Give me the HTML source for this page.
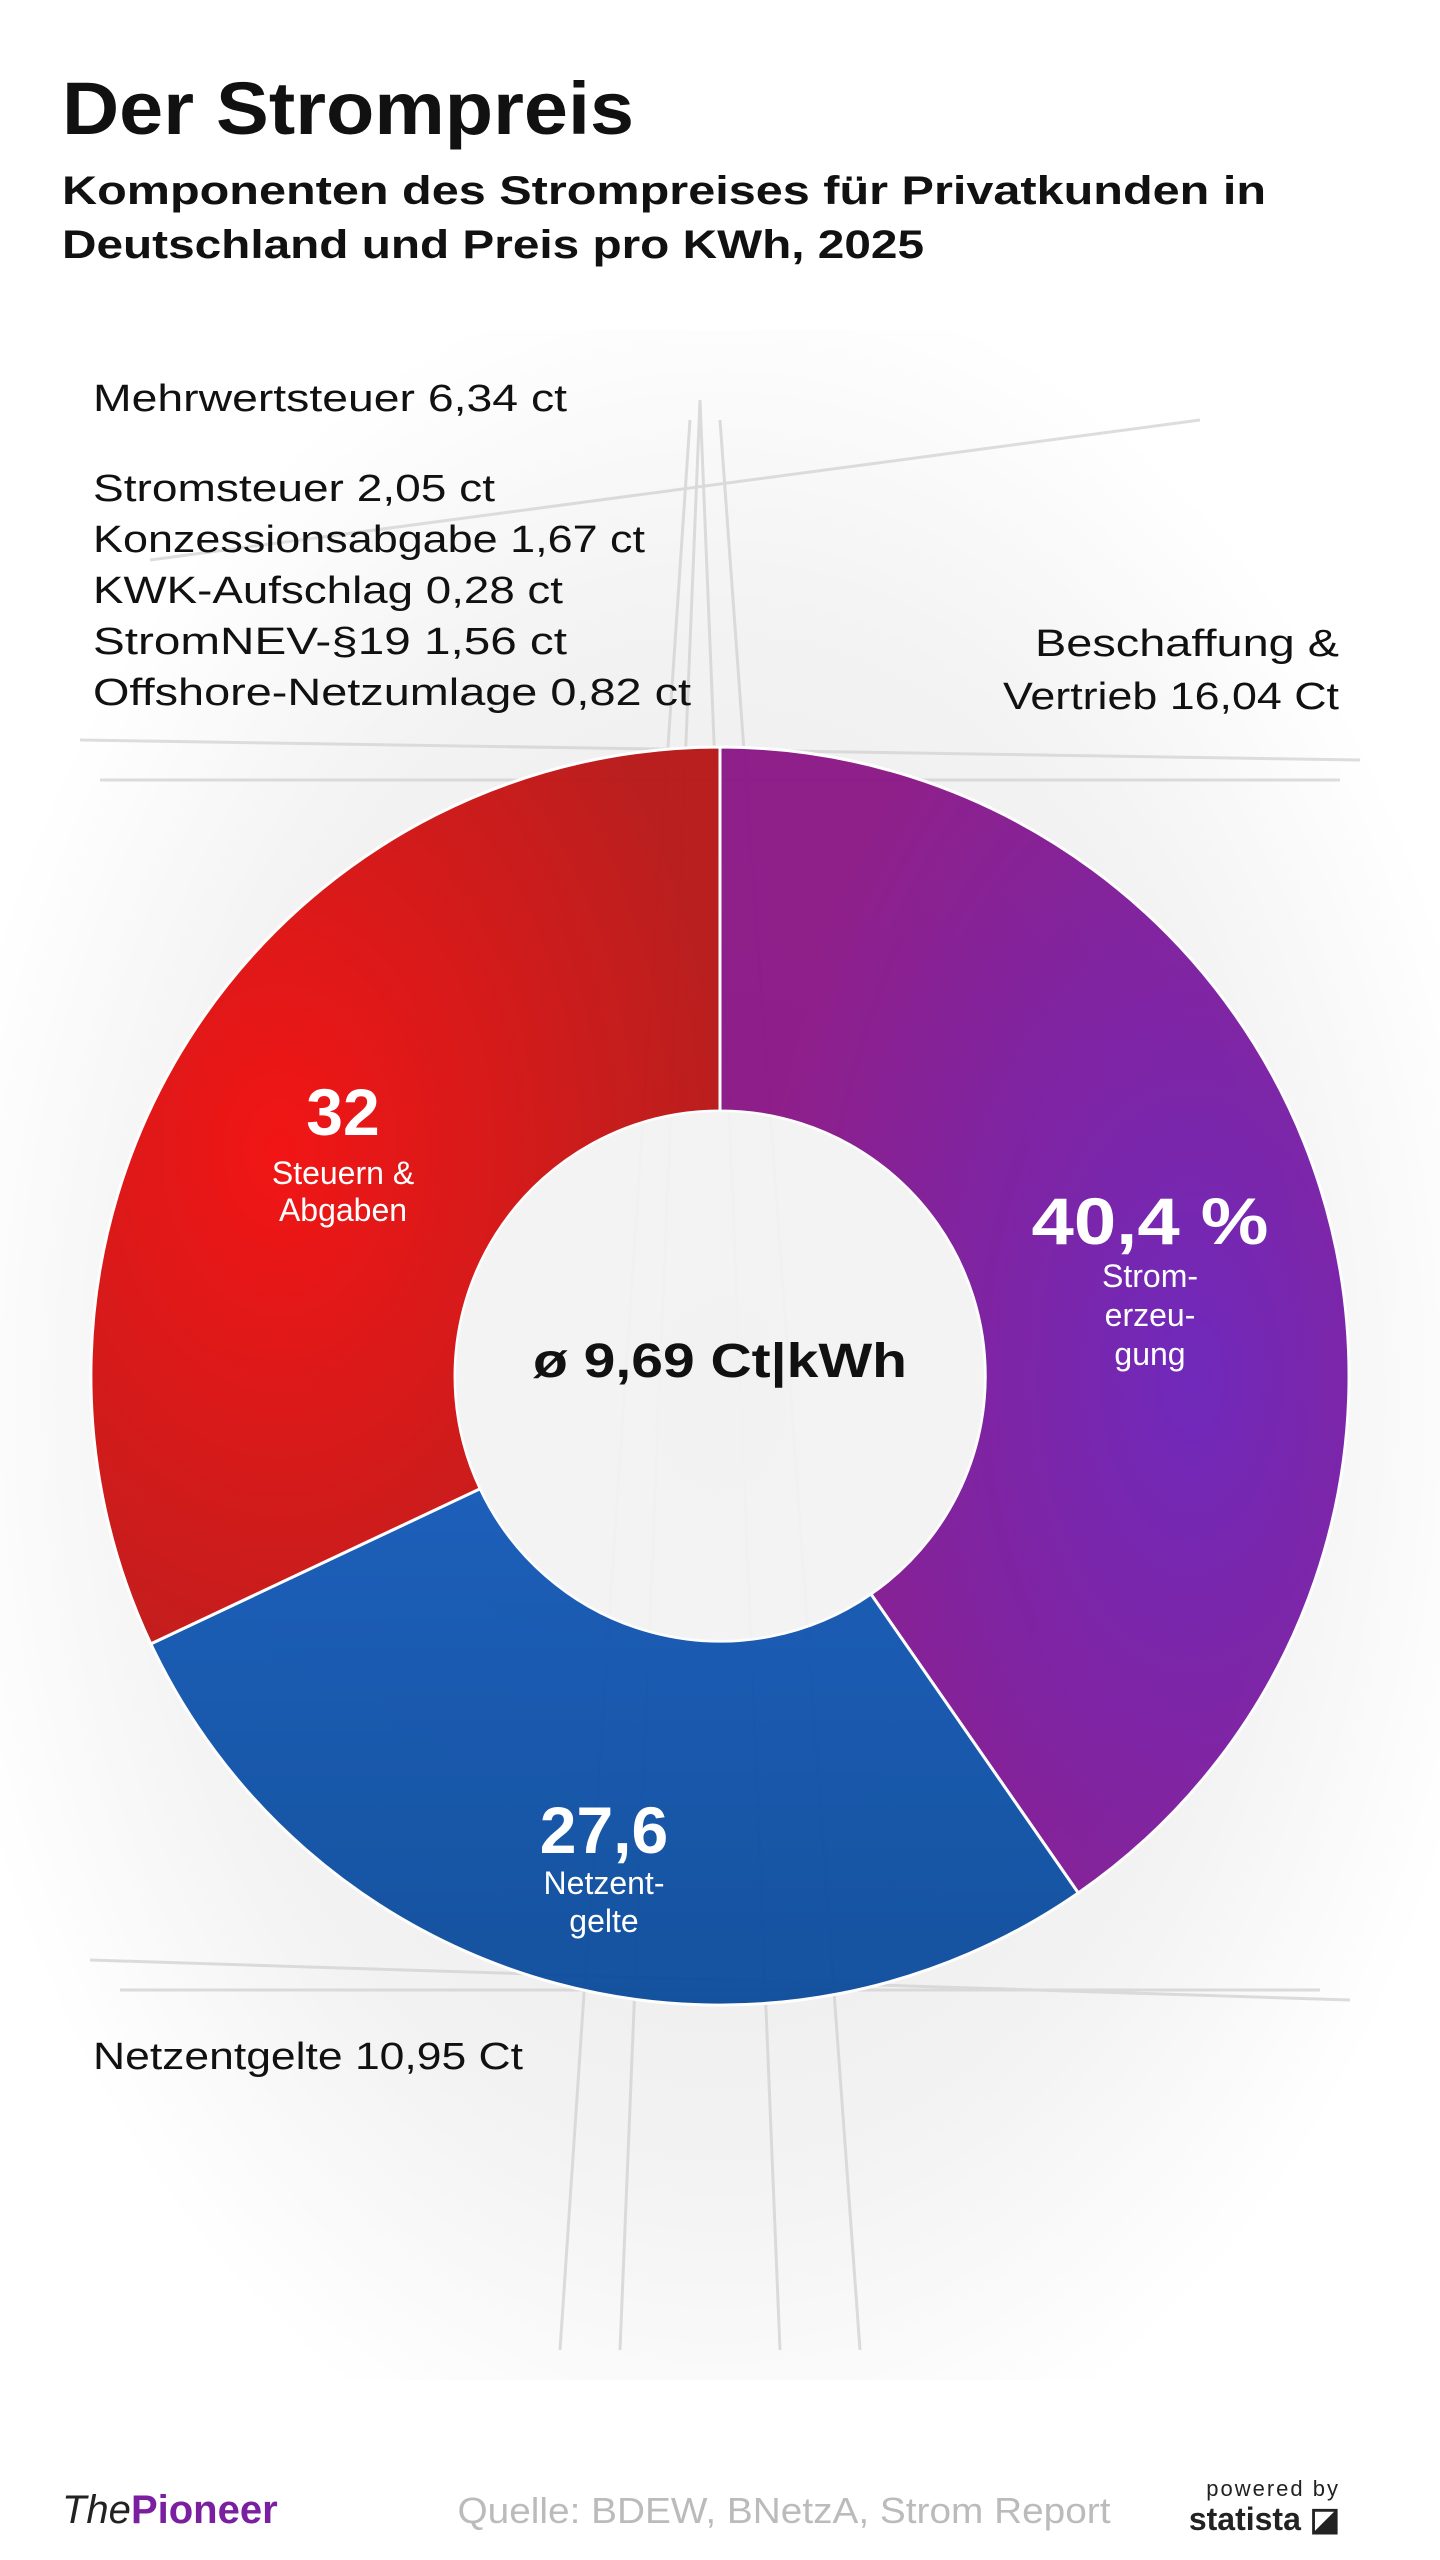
<!DOCTYPE html>
<html><head><meta charset="utf-8"><style>
html,body{margin:0;padding:0;background:#fff}
svg{display:block}
text{font-family:"Liberation Sans",sans-serif}
</style></head><body>
<svg width="1440" height="2560" viewBox="0 0 1440 2560" xmlns="http://www.w3.org/2000/svg">
<defs>
<radialGradient id="bg" cx="50%" cy="52%" r="55%">
<stop offset="0" stop-color="#e6e6e6"/><stop offset="0.7" stop-color="#f3f3f3"/><stop offset="1" stop-color="#fff"/>
</radialGradient>
<radialGradient id="red" cx="30%" cy="45%" r="70%">
<stop offset="0" stop-color="#f20a0a"/><stop offset="1" stop-color="#b81414"/>
</radialGradient>
<radialGradient id="pur" cx="75%" cy="55%" r="70%">
<stop offset="0" stop-color="#6a1fb8"/><stop offset="1" stop-color="#8a1585"/>
</radialGradient>
<linearGradient id="blu" x1="0" y1="0" x2="0" y2="1">
<stop offset="0" stop-color="#1258b8"/><stop offset="1" stop-color="#0a4a9a"/>
</linearGradient>
</defs>
<rect x="0" y="330" width="1440" height="2050" fill="url(#bg)"/>
<g stroke="#d4d4d4" stroke-width="3" fill="none" opacity="0.8">
<path d="M620 2350 L700 400 L780 2350"/><path d="M560 2350 L690 420"/><path d="M860 2350 L720 420"/>
<path d="M100 780 L1340 780"/><path d="M120 1990 L1320 1990"/><path d="M80 740 L1360 760"/>
<path d="M150 560 L1200 420"/><path d="M90 1960 L1350 2000"/>
</g>
<text x="62" y="134" font-size="74" font-weight="bold" fill="#111" textLength="572" lengthAdjust="spacingAndGlyphs">Der Strompreis</text>
<text x="62" y="204" font-size="40" font-weight="bold" fill="#111" textLength="1204" lengthAdjust="spacingAndGlyphs">Komponenten des Strompreises für Privatkunden in</text>
<text x="62" y="258" font-size="40" font-weight="bold" fill="#111" textLength="862" lengthAdjust="spacingAndGlyphs">Deutschland und Preis pro KWh, 2025</text>
<g font-size="38" fill="#111">
<text x="93" y="411" textLength="474" lengthAdjust="spacingAndGlyphs">Mehrwertsteuer 6,34 ct</text>
<text x="93" y="501" textLength="402" lengthAdjust="spacingAndGlyphs">Stromsteuer 2,05 ct</text>
<text x="93" y="552" textLength="552" lengthAdjust="spacingAndGlyphs">Konzessionsabgabe 1,67 ct</text>
<text x="93" y="603" textLength="470" lengthAdjust="spacingAndGlyphs">KWK-Aufschlag 0,28 ct</text>
<text x="93" y="654" textLength="474" lengthAdjust="spacingAndGlyphs">StromNEV-§19 1,56 ct</text>
<text x="93" y="705" textLength="598" lengthAdjust="spacingAndGlyphs">Offshore-Netzumlage 0,82 ct</text>
<text x="1035" y="656" textLength="304" lengthAdjust="spacingAndGlyphs">Beschaffung &amp;</text>
<text x="1003" y="709" textLength="336" lengthAdjust="spacingAndGlyphs">Vertrieb 16,04 Ct</text>
<text x="93" y="2069" textLength="430" lengthAdjust="spacingAndGlyphs">Netzentgelte 10,95 Ct</text>
</g>
<g stroke="#fff" stroke-width="3" opacity="0.95">
<path d="M720 747 A629 629 0 0 1 1078.3 1893 L870.9 1594 A265 265 0 0 0 720 1111 Z" fill="url(#pur)"/>
<path d="M1078.3 1893 A629 629 0 0 1 150.8 1643.9 L480.2 1488.7 A265 265 0 0 0 870.9 1594 Z" fill="url(#blu)"/>
<path d="M150.8 1643.9 A629 629 0 0 1 720 747 L720 1111 A265 265 0 0 0 480.2 1488.7 Z" fill="url(#red)"/>
</g>
<circle cx="720" cy="1376" r="264" fill="#f3f3f3" opacity="0.92"/>
<g fill="#fff" text-anchor="middle">
<text x="343" y="1135" font-size="66" font-weight="bold">32</text>
<text x="343" y="1184" font-size="32">Steuern &amp;</text>
<text x="343" y="1221" font-size="32">Abgaben</text>
<text x="1150" y="1244" font-size="66" font-weight="bold" textLength="237" lengthAdjust="spacingAndGlyphs">40,4 %</text>
<text x="1150" y="1287" font-size="32">Strom-</text>
<text x="1150" y="1326" font-size="32">erzeu-</text>
<text x="1150" y="1365" font-size="32">gung</text>
<text x="604" y="1853" font-size="66" font-weight="bold">27,6</text>
<text x="604" y="1894" font-size="32">Netzent-</text>
<text x="604" y="1932" font-size="32">gelte</text>
</g>
<text x="720" y="1377" font-size="48" font-weight="bold" fill="#111" text-anchor="middle" textLength="374" lengthAdjust="spacingAndGlyphs">ø 9,69 Ct|kWh</text>
<text x="62" y="2523" font-size="40" font-style="italic" font-family="Liberation Serif" fill="#222">The<tspan font-family="Liberation Sans" font-style="normal" font-weight="bold" fill="#7a1fa0">Pioneer</tspan></text>
<text x="784" y="2523" font-size="36" fill="#bbb" text-anchor="middle" textLength="653" lengthAdjust="spacingAndGlyphs">Quelle: BDEW, BNetzA, Strom Report</text>
<text x="1340" y="2496" font-size="22" fill="#222" text-anchor="end" letter-spacing="2">powered by</text>
<text x="1340" y="2530" font-size="32" font-weight="bold" fill="#222" text-anchor="end">statista ◪</text>
</svg>
</body></html>
